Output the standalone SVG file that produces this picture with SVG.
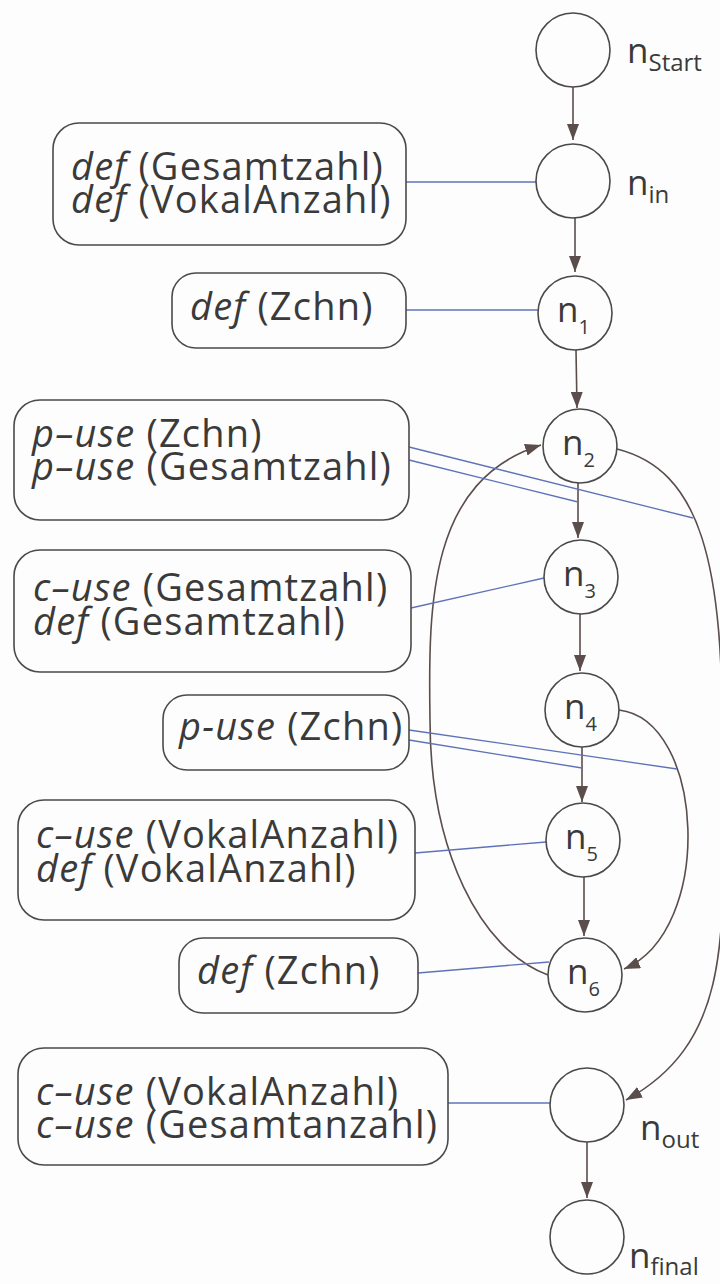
<svg xmlns="http://www.w3.org/2000/svg" width="720" height="1284" viewBox="0 0 720 1284">
<defs>
<marker id="ah" viewBox="0 0 16 12" refX="16" refY="6" markerWidth="16" markerHeight="12" markerUnits="userSpaceOnUse" orient="auto">
<path d="M0,0 L16,6 L0,12 z" fill="#5b4d4b"/>
</marker>
<style>
.bg{fill:#fdfdfd}
.node{fill:#fdfdfd;stroke:#4a4a4a;stroke-width:1.6}
.box{fill:#fdfdfd;stroke:#4a4a4a;stroke-width:1.6}
.t{font-family:"Open Sans","Noto Sans",sans-serif;font-size:38px;letter-spacing:1.2px;fill:#3a3a3a}
.i{font-style:italic}
.nl{font-family:"Open Sans","Noto Sans",sans-serif;font-size:35px;fill:#3a3a3a}
.sub{font-size:20px}
.osub{font-size:24px}
.edge{fill:none;stroke:#5b4d4b;stroke-width:1.6;marker-end:url(#ah)}
.du{fill:none;stroke:#5f72b8;stroke-width:1.3}
</style>
</defs>
<rect class="bg" x="0" y="0" width="720" height="1284"/>

<g id="connectors">
<path class="edge" d="M573,87 L573,140"/>
<path class="edge" d="M575,218 L575,272"/>
<path class="edge" d="M576,350 L577,408"/>
<path class="edge" d="M578,483 L578,538"/>
<path class="edge" d="M580,614 L580,671"/>
<path class="edge" d="M582,747 L582,802"/>
<path class="edge" d="M584,877 L584,936"/>
<path class="edge" d="M587,1142 L587,1198"/>
<path class="edge" d="M548,975 C480,950 430,850 430,720 C428,600 430,480 541,445"/>
<path class="edge" d="M619,710 C705,720 715,930 624,969"/>
<path class="edge" d="M617,449 C700,470 725,560 722,760 C724,930 735,1040 626,1100"/>
<path class="du" d="M406,182 L536,182"/>
<path class="du" d="M406,310 L538,310"/>
<path class="du" d="M409,447 L693,518"/>
<path class="du" d="M409,460 L578,502"/>
<path class="du" d="M411,608 L544,578"/>
<path class="du" d="M409,730 L677,769"/>
<path class="du" d="M409,740 L582,768"/>
<path class="du" d="M415,853 L546,842"/>
<path class="du" d="M418,973 L549,962"/>
<path class="du" d="M448,1103 L550,1103"/>
</g>

<g id="n_start">
<circle class="node" cx="573" cy="50" r="37"/>
<text class="nl" x="627" y="63">n<tspan class="osub" dy="8">Start</tspan></text>
</g>
<g id="n_in">
<circle class="node" cx="573" cy="181" r="37"/>
<text class="nl" x="627" y="195">n<tspan class="osub" dy="8">in</tspan></text>
</g>
<g id="n1">
<circle class="node" cx="575" cy="313" r="37"/>
<text class="nl" x="557" y="322">n<tspan class="sub" dy="12">1</tspan></text>
</g>
<g id="n2">
<circle class="node" cx="580" cy="446" r="37"/>
<text class="nl" x="562" y="455">n<tspan class="sub" dy="12">2</tspan></text>
</g>
<g id="n3">
<circle class="node" cx="581" cy="577" r="37"/>
<text class="nl" x="563" y="586">n<tspan class="sub" dy="12">3</tspan></text>
</g>
<g id="n4">
<circle class="node" cx="582" cy="710" r="37"/>
<text class="nl" x="564" y="719">n<tspan class="sub" dy="12">4</tspan></text>
</g>
<g id="n5">
<circle class="node" cx="583" cy="840" r="37"/>
<text class="nl" x="565" y="849">n<tspan class="sub" dy="12">5</tspan></text>
</g>
<g id="n6">
<circle class="node" cx="585" cy="975" r="37"/>
<text class="nl" x="567" y="984">n<tspan class="sub" dy="12">6</tspan></text>
</g>
<g id="n_out">
<circle class="node" cx="587" cy="1105" r="37"/>
<text class="nl" x="640" y="1140">n<tspan class="osub" dy="8">out</tspan></text>
</g>
<g id="n_final">
<circle class="node" cx="587" cy="1237" r="37"/>
<text class="nl" x="629" y="1268">n<tspan class="osub" dy="7">final</tspan></text>
</g>

<g id="box_n_in">
<rect class="box" x="53" y="123" width="353" height="122" rx="26"/>
<text class="t"><tspan x="71" y="180"><tspan class="i">def</tspan> (Gesamtzahl)</tspan><tspan x="71" y="213"><tspan class="i">def</tspan> (VokalAnzahl)</tspan></text>
</g>
<g id="box_n1">
<rect class="box" x="172" y="273" width="234" height="75" rx="24"/>
<text class="t" x="190" y="320"><tspan class="i">def</tspan> (Zchn)</text>
</g>
<g id="box_n2">
<rect class="box" x="14" y="400" width="395" height="120" rx="26"/>
<text class="t"><tspan x="32" y="447"><tspan class="i">p–use</tspan> (Zchn)</tspan><tspan x="32" y="480"><tspan class="i">p–use</tspan> (Gesamtzahl)</tspan></text>
</g>
<g id="box_n3">
<rect class="box" x="14" y="550" width="397" height="122" rx="26"/>
<text class="t"><tspan x="33" y="601"><tspan class="i">c–use</tspan> (Gesamtzahl)</tspan><tspan x="33" y="635"><tspan class="i">def</tspan> (Gesamtzahl)</tspan></text>
</g>
<g id="box_n4">
<rect class="box" x="163" y="695" width="246" height="75" rx="24"/>
<text class="t" x="179" y="740"><tspan class="i">p-use</tspan> (Zchn)</text>
</g>
<g id="box_n5">
<rect class="box" x="18" y="800" width="397" height="120" rx="26"/>
<text class="t"><tspan x="36" y="848"><tspan class="i">c–use</tspan> (VokalAnzahl)</tspan><tspan x="36" y="882"><tspan class="i">def</tspan> (VokalAnzahl)</tspan></text>
</g>
<g id="box_n6">
<rect class="box" x="179" y="938" width="239" height="75" rx="24"/>
<text class="t" x="197" y="984"><tspan class="i">def</tspan> (Zchn)</text>
</g>
<g id="box_n_out">
<rect class="box" x="18" y="1048" width="430" height="117" rx="26"/>
<text class="t"><tspan x="36" y="1105"><tspan class="i">c–use</tspan> (VokalAnzahl)</tspan><tspan x="36" y="1138"><tspan class="i">c–use</tspan> (Gesamtanzahl)</tspan></text>
</g>
</svg>
